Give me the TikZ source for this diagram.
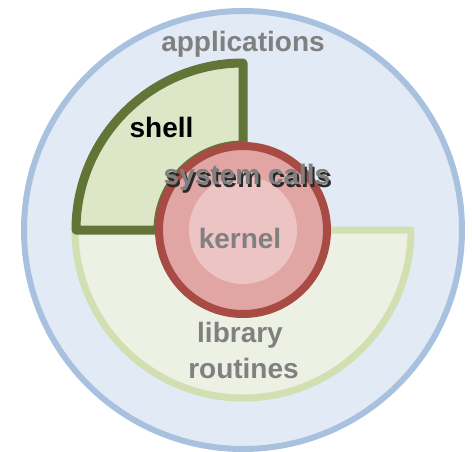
\documentclass[tikz,border=0pt]{standalone}
\usepackage{fontspec}
\setmainfont{Liberation Sans}
\usetikzlibrary{calc}
\definecolor{appfill}{HTML}{E2EAF5}
\definecolor{appline}{HTML}{A7C1DF}
\definecolor{libfill}{HTML}{EDF1E3}
\definecolor{libline}{HTML}{D1DFB1}
\definecolor{shfill}{HTML}{DEE6C8}
\definecolor{shline}{HTML}{627536}
\definecolor{kfill}{HTML}{E1A6A4}
\definecolor{kline}{HTML}{A84B45}
\definecolor{kinner}{HTML}{ECC4C3}
\definecolor{labelgray}{HTML}{808080}
\definecolor{shadowc}{HTML}{2A2A2A}
\newcommand{\shadowtext}[1]{\makebox[0pt][l]{\hspace{2pt}\raisebox{-2pt}{\textcolor{shadowc}{#1}}}#1}
\tikzset{
  lbl/.style={font=\fontsize{28}{32}\selectfont\bfseries, text=labelgray, inner sep=0pt, anchor=base},
  layer/.style={line join=round, line cap=round}
}
\begin{document}
\begin{tikzpicture}[x=1pt,y=1pt]
\useasboundingbox (0,0) rectangle (472,451);
\coordinate (c) at (243,221);
% applications
\draw[layer, fill=appfill, draw=appline, line width=6pt] (c) circle (219pt);
% library routines
\draw[layer, fill=libfill, draw=libline, line width=7pt]
  ($(c)+(-168,0)$) arc[start angle=180, end angle=360, radius=168pt] -- cycle;
% shell
\draw[layer, fill=shfill, draw=shline, line width=9pt]
  ($(c)+(0,85)$) -- ($(c)+(0,167)$) arc[start angle=90, end angle=180, radius=167pt]
  -- ($(c)+(-85,0)$) arc[start angle=180, end angle=90, radius=85pt] -- cycle;
% kernel
\draw[fill=kfill, draw=kline, line width=8pt] (c) circle (84pt);
\fill[kinner] (c) circle (54pt);
% labels
\node[lbl] (app) at (243,399) {applications};
\node[lbl, text=black] (sh) at (161.5,313) {shell};
\node[lbl] (sc) at (247,266) {\shadowtext{system calls}};
\node[lbl] (ker) at (240,203) {kernel};
\node[lbl] (lib) at (240,109) {library};
\node[lbl] (rt) at (243.5,73) {routines};
\end{tikzpicture}
\end{document}
